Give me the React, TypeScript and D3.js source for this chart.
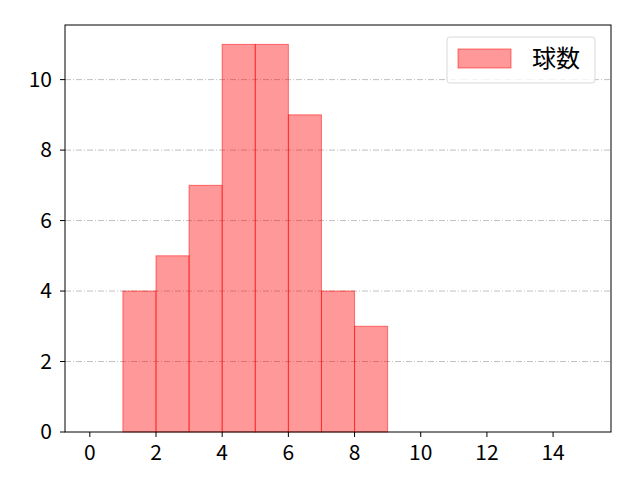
import { scaleLinear, range } from 'd3';

// histogram bins (edges 0..15) and counts per bin
const binEdges = range(0, 16);
const counts = [0, 4, 5, 7, 11, 11, 9, 4, 3, 0, 0, 0, 0, 0, 0];
const xTicks = [0, 2, 4, 6, 8, 10, 12, 14];
const yTicks = [0, 2, 4, 6, 8, 10];
const legendLabel = '球数';

const WIDTH = 640;
const HEIGHT = 480;
const LEFT = 65;
const RIGHT = 611;
const TOP = 25;
const BOTTOM = 432;
const FONT = '"Noto Sans CJK JP", "Noto Sans", sans-serif';

export default function App() {
  const x = scaleLinear().domain([-0.75, 15.75]).range([LEFT, RIGHT]);
  const y = scaleLinear().domain([0, 11.55]).range([BOTTOM, TOP]);

  return (
    <svg
      width={WIDTH}
      height={HEIGHT}
      style={{ position: 'absolute', left: 0, top: 0 }}
      fontFamily={FONT}
    >
      <rect width={WIDTH} height={HEIGHT} fill="white" />
      {yTicks
        .filter((t) => t > 0)
        .map((t) => (
          <line
            key={`g${t}`}
            x1={LEFT}
            x2={RIGHT}
            y1={y(t)}
            y2={y(t)}
            stroke="#b0b0b0"
            strokeWidth={0.8}
            strokeDasharray="6,2,1,2"
          />
        ))}
      {counts.map((c, i) => (
        <rect
          key={`b${i}`}
          x={x(binEdges[i])}
          y={y(c)}
          width={x(binEdges[i + 1]) - x(binEdges[i])}
          height={y(0) - y(c)}
          fill="rgba(255,0,0,0.4)"
          stroke="rgba(255,0,0,0.5)"
          strokeWidth={1}
        />
      ))}
      <rect
        x={LEFT}
        y={TOP}
        width={RIGHT - LEFT}
        height={BOTTOM - TOP}
        fill="none"
        stroke="black"
        strokeWidth={1}
      />
      {xTicks.map((t) => (
        <g key={`x${t}`} transform={`translate(${x(t)},${BOTTOM})`}>
          <line y2={5} stroke="black" strokeWidth={1} />
          <text y={28} textAnchor="middle" fontSize={21} fill="black">
            {t}
          </text>
        </g>
      ))}
      {yTicks.map((t) => (
        <g key={`y${t}`} transform={`translate(${LEFT},${y(t)})`}>
          <line x2={-5} stroke="black" strokeWidth={1} />
          <text x={-13} dy="0.35em" textAnchor="end" fontSize={21} fill="black">
            {t}
          </text>
        </g>
      ))}
      <g>
        <rect
          x={447}
          y={37}
          width={148}
          height={46}
          rx={3}
          fill="white"
          fillOpacity={0.8}
          stroke="#d9d9d9"
          strokeWidth={1}
        />
        <rect
          x={458}
          y={49}
          width={53}
          height={19}
          fill="rgba(255,0,0,0.4)"
          stroke="rgba(255,0,0,0.5)"
          strokeWidth={1}
        />
        <text x={532} y={59} dy="0.35em" fontSize={24} fill="black">
          {legendLabel}
        </text>
      </g>
    </svg>
  );
}
